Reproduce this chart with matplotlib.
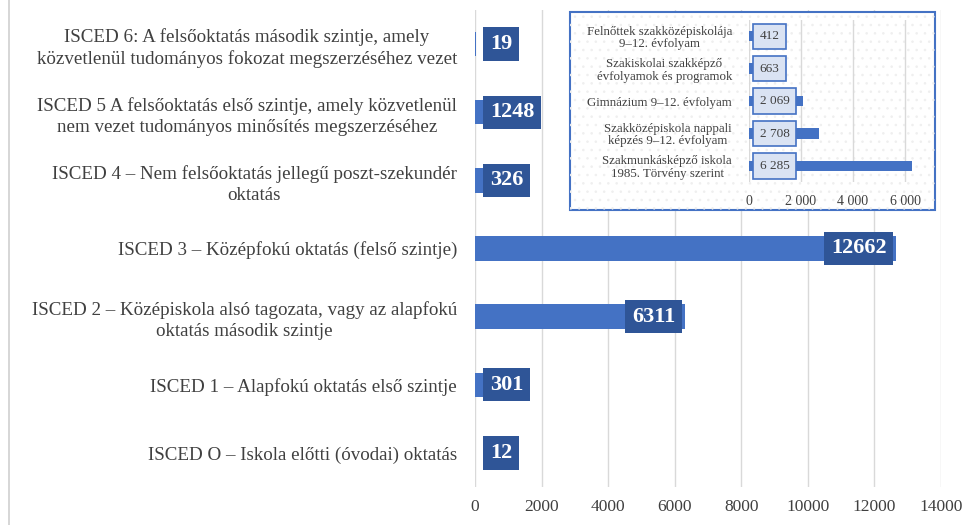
import matplotlib.pyplot as plt
from matplotlib.patches import Rectangle
from matplotlib.lines import Line2D

plt.rcParams['font.family'] = ['Liberation Serif', 'DejaVu Serif']
plt.rcParams['hatch.linewidth'] = 0.6

# fő diagram adatai (alulról felfelé)
isced_labels = [
    "ISCED O – Iskola előtti (óvodai) oktatás",
    "ISCED 1 – Alapfokú oktatás első szintje",
    "ISCED 2 – Középiskola alsó tagozata, vagy az alapfokú\noktatás második szintje",
    "ISCED 3 – Középfokú oktatás (felső szintje)",
    "ISCED 4 – Nem felsőoktatás jellegű poszt-szekundér\noktatás",
    "ISCED 5 A felsőoktatás első szintje, amely közvetlenül\nnem vezet tudományos minősítés megszerzéséhez",
    "ISCED 6: A felsőoktatás második szintje, amely\nközvetlenül tudományos fokozat megszerzéséhez vezet",
]
isced_values = [12, 301, 6311, 12662, 326, 1248, 19]
main_ticks = [0, 2000, 4000, 6000, 8000, 10000, 12000, 14000]

# beágyazott diagram adatai (alulról felfelé)
sub_labels = [
    "Szakmunkásképző iskola\n1985. Törvény szerint",
    "Szakközépiskola nappali\nképzés 9–12. évfolyam",
    "Gimnázium 9–12. évfolyam",
    "Szakiskolai szakképző\névfolyamok és programok",
    "Felnőttek szakközépiskolája\n9–12. évfolyam",
]
sub_values = [6285, 2708, 2069, 663, 412]
sub_ticks = [0, 2000, 4000, 6000]

blue = '#4472C4'
dark_blue = '#2F5597'
grid_c = '#D9D9D9'
text_c = '#404040'

fig = plt.figure(figsize=(9.66, 5.25), dpi=100)

### fő diagram
ax = fig.add_axes([0.4917, 0.0724, 0.4824, 0.9086])
y = list(range(len(isced_values)))
ax.barh(y, isced_values, height=0.36, color=blue, zorder=3)
ax.set_xlim(0, 14000)
ax.set_ylim(-0.5, len(y) - 0.5)
ax.set_xticks(main_ticks)
ax.set_xticklabels([str(t) for t in main_ticks], fontsize=12.5, color=text_c)
ax.set_yticks(y)
ax.set_yticklabels(isced_labels, fontsize=13.7, color=text_c,
                   multialignment='center', linespacing=1.3)
ax.tick_params(axis='both', length=0)
ax.tick_params(axis='y', pad=13)
ax.tick_params(axis='x', pad=9)
ax.grid(axis='x', color=grid_c, linewidth=1, zorder=0)
for s in ax.spines.values():
    s.set_visible(False)

for i, v in enumerate(isced_values):
    if v > 3000:
        x, ha = v - 300, 'right'
    else:
        x, ha = 450, 'left'
    ax.text(x, i, str(v), ha=ha, va='center', fontsize=16, fontweight='bold',
            color='white', zorder=5,
            bbox=dict(boxstyle='square,pad=0.3', fc=dark_blue, ec='none'))

# bal oldali keretvonal
fig.add_artist(Line2D([0.009, 0.009], [0, 1], color='#D0D0D0', linewidth=1.2))

### beágyazott diagram háttere
fig.add_artist(Rectangle((0.590, 0.600), 0.378, 0.377, transform=fig.transFigure,
                         facecolor='white', edgecolor=blue, linewidth=1.5, zorder=10))
fig.add_artist(Rectangle((0.590, 0.600), 0.378, 0.377, transform=fig.transFigure,
                         facecolor='none', edgecolor='#EFEFEF', hatch='..',
                         linewidth=0, zorder=10))

ax2 = fig.add_axes([0.775, 0.653, 0.170, 0.309], zorder=11)
ax2.patch.set_alpha(0)
y2 = list(range(len(sub_values)))
ax2.barh(y2, sub_values, height=0.32, color=blue, zorder=3)
ax2.set_xlim(0, 6300)
ax2.set_ylim(-0.5, len(y2) - 0.5)
ax2.set_xticks(sub_ticks)
ax2.set_xticklabels([f"{t:,}".replace(',', ' ') for t in sub_ticks],
                    fontsize=10, color=text_c)
ax2.set_yticks(y2)
ax2.set_yticklabels(sub_labels, fontsize=9.3, color=text_c,
                    multialignment='center', linespacing=1.05)
ax2.tick_params(axis='both', length=0)
ax2.tick_params(axis='y', pad=12)
ax2.tick_params(axis='x', pad=9)
ax2.grid(axis='x', color=grid_c, linewidth=1, zorder=0)
for s in ax2.spines.values():
    s.set_visible(False)

for i, v in enumerate(sub_values):
    ax2.text(420, i, f"{v:,}".replace(',', ' '), ha='left', va='center',
             fontsize=9.5, color=text_c, zorder=5,
             bbox=dict(boxstyle='square,pad=0.5', fc='#DAE3F3', ec=blue, lw=1.2))

fig.savefig('out.png', dpi=100)
